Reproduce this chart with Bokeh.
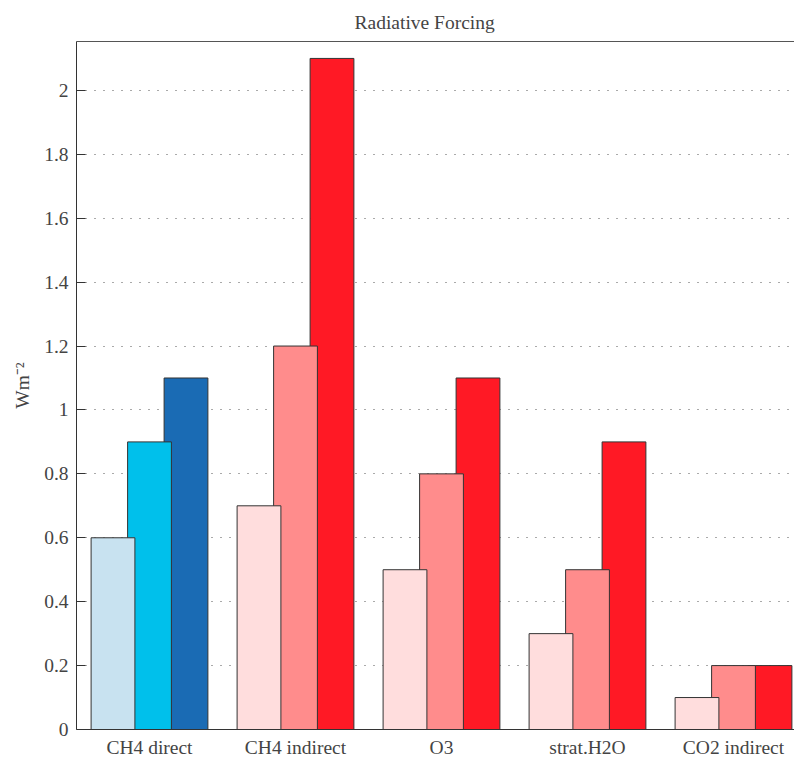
from bokeh.plotting import figure
from bokeh.models import Range1d, FixedTicker, LinearAxis, ColumnDataSource
from bokeh.embed import file_html
from bokeh.resources import INLINE
import numpy as np

# ---- data ----
categories = ["CH4 direct", "CH4 indirect", "O3", "strat.H2O", "CO2 indirect"]
series1 = [0.6, 0.7, 0.5, 0.3, 0.1]
series2 = [0.9, 1.2, 0.8, 0.5, 0.2]
series3 = [1.1, 2.1, 1.1, 0.9, 0.2]
colors1 = ["#c8e2f0", "#ffdddd", "#ffdddd", "#ffdddd", "#ffdddd"]
colors2 = ["#00c0eb", "#ff8c8c", "#ff8c8c", "#ff8c8c", "#ff8c8c"]
colors3 = ["#1a6bb4", "#ff1925", "#ff1925", "#ff1925", "#ff1925"]
yticks = [0, 0.2, 0.4, 0.6, 0.8, 1, 1.2, 1.4, 1.6, 1.8, 2]
ytick_labels = ["0", "0.2", "0.4", "0.6", "0.8", "1", "1.2", "1.4", "1.6", "1.8", "2"]

FONT = "Liberation Serif"
FS = "19.5px"

p = figure(width=794, height=760, output_backend="svg", toolbar_location=None,
           x_range=Range1d(0.5, 0.5 + 718 / 146), y_range=Range1d(0, 2.153),
           min_border_left=76, min_border_right=0, min_border_top=41, min_border_bottom=10)
p.outline_line_color = None
p.background_fill_color = "white"
p.border_fill_color = "white"

# title
p.title.text = "Radiative Forcing"
p.title.text_font = FONT
p.title.text_font_size = FS
p.title.text_font_style = "normal"
p.title.align = "left"
p.title.offset = 278
p.title.standoff = 17

xc = np.arange(1, len(categories) + 1)
off = 0.25
bw = 0.30
series = [(series3, colors3, off), (series2, colors2, 0.0), (series1, colors1, -off)]
for vals, cols, o in series:
    src = ColumnDataSource(dict(x=xc + o, top=vals, color=cols))
    p.vbar(x="x", top="top", bottom=0, width=bw, source=src, fill_color="color",
           line_color="#333333", line_width=1)

# x axis
xa = p.xaxis[0]
xa.ticker = FixedTicker(ticks=list(xc))
xa.major_label_overrides = {int(i): c for i, c in zip(xc, categories)}
xa.major_tick_line_color = None
xa.minor_tick_line_color = None
xa.axis_line_color = "#333333"
xa.major_label_text_font = FONT
xa.major_label_text_font_size = FS
xa.major_label_standoff = 1
p.xgrid.visible = False

# y axis
ya = p.yaxis[0]
ya.ticker = FixedTicker(ticks=yticks)
ya.major_label_overrides = {t: l for t, l in zip(yticks, ytick_labels)}
ya.major_tick_in = 9
ya.major_tick_out = 0
ya.minor_tick_line_color = None
ya.major_tick_line_color = "#333333"
ya.axis_line_color = "#333333"
ya.major_label_text_font = FONT
ya.major_label_text_font_size = FS
ya.major_label_standoff = 8
ya.axis_label = "Wm\u207b\u00b2"
ya.axis_label_text_font = FONT
ya.axis_label_text_font_size = FS
ya.axis_label_text_font_style = "normal"
ya.axis_label_standoff = 8

p.ygrid.ticker = FixedTicker(ticks=yticks[1:])
p.ygrid.grid_line_color = "#555555"
p.ygrid.grid_line_dash = "1 8"
p.ygrid.grid_line_width = 1

# top frame line
top = LinearAxis(ticker=FixedTicker(ticks=[]), axis_line_color="#555555",
                 major_tick_line_color=None, minor_tick_line_color=None,
                 major_label_text_font_size="0px")
p.add_layout(top, "above")

open("out.html", "w").write(file_html(p, INLINE))
